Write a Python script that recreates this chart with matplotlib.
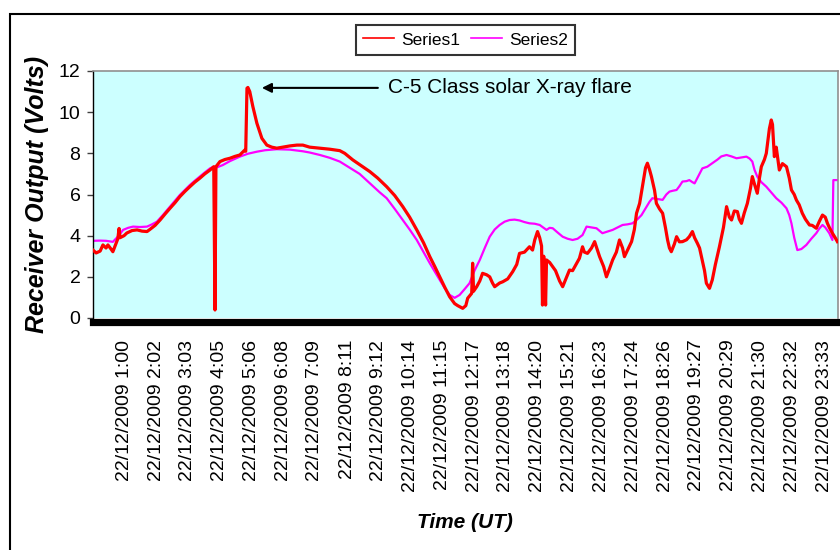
import matplotlib
matplotlib.use('Agg')
import matplotlib.pyplot as plt
from matplotlib.patches import Rectangle

plt.rcParams['font.family'] = ['Liberation Sans', 'DejaVu Sans']

# Series1 - receiver output (hours UT, volts)
s1_time = [0.00, 0.10, 0.23, 0.32, 0.42, 0.48, 0.58, 0.64, 0.71, 0.77, 0.80, 0.84, 0.87, 1.00, 1.09,
           1.26, 1.42, 1.58, 1.74, 1.83, 2.00, 2.16, 2.32, 2.48, 2.64, 2.80, 2.96, 3.12, 3.28, 3.44,
           3.60, 3.77, 3.89, 3.93, 3.96, 4.09, 4.25, 4.41, 4.57, 4.73, 4.89, 4.92, 4.96, 4.99, 5.05,
           5.15, 5.28, 5.44, 5.60, 5.76, 5.92, 6.12, 6.34, 6.57, 6.76, 6.98, 7.31, 7.63, 7.95, 8.11,
           8.37, 8.59, 8.92, 9.17, 9.46, 9.72, 9.98, 10.20, 10.43, 10.65, 10.85, 11.01, 11.17, 11.33,
           11.49, 11.65, 11.75, 11.91, 12.01, 12.07, 12.20, 12.23, 12.26, 12.36, 12.46, 12.55, 12.68,
           12.78, 12.87, 12.94, 13.10, 13.20, 13.36, 13.52, 13.65, 13.74, 13.90, 14.06, 14.16, 14.23,
           14.32, 14.39, 14.45, 14.48, 14.52, 14.58, 14.61, 14.71, 14.81, 14.90, 15.03, 15.13, 15.26,
           15.35, 15.45, 15.58, 15.67, 15.77, 15.83, 15.93, 16.06, 16.16, 16.25, 16.32, 16.45, 16.54,
           16.64, 16.74, 16.86, 16.96, 17.06, 17.12, 17.22, 17.35, 17.44, 17.51, 17.61, 17.70, 17.80,
           17.86, 17.93, 17.99, 18.09, 18.15, 18.25, 18.35, 18.44, 18.51, 18.57, 18.63, 18.73, 18.80,
           18.89, 18.99, 19.12, 19.21, 19.31, 19.38, 19.47, 19.54, 19.60, 19.70, 19.76, 19.86, 19.95,
           20.05, 20.18, 20.31, 20.41, 20.50, 20.57, 20.66, 20.76, 20.82, 20.89, 20.98, 21.08, 21.18,
           21.24, 21.31, 21.40, 21.47, 21.53, 21.63, 21.69, 21.79, 21.85, 21.89, 21.95, 22.01, 22.11,
           22.21, 22.34, 22.43, 22.50, 22.59, 22.66, 22.75, 22.85, 22.95, 23.08, 23.17, 23.30, 23.40,
           23.50, 23.59, 23.66, 23.72, 23.82, 23.91, 23.98]
s1_volts = [3.30, 3.16, 3.25, 3.55, 3.40, 3.55, 3.35, 3.22, 3.50, 3.75, 3.85, 4.35, 3.90, 4.00, 4.13,
            4.25, 4.28, 4.22, 4.20, 4.30, 4.50, 4.76, 5.05, 5.33, 5.60, 5.90, 6.15, 6.38, 6.60, 6.79,
            7.00, 7.19, 7.35, 0.39, 7.35, 7.60, 7.70, 7.76, 7.85, 7.92, 8.16, 8.10, 11.16, 11.20, 11.00,
            10.27, 9.46, 8.73, 8.40, 8.30, 8.25, 8.30, 8.36, 8.40, 8.40, 8.30, 8.25, 8.20, 8.13, 8.00,
            7.68, 7.45, 7.11, 6.80, 6.38, 5.95, 5.41, 4.90, 4.28, 3.65, 2.98, 2.50, 2.00, 1.50,
            1.03, 0.70, 0.60, 0.47, 0.60, 0.96, 1.20, 2.66, 1.30, 1.52, 1.80, 2.17, 2.10,
            2.00, 1.70, 1.52, 1.70, 1.76, 1.90, 2.25, 2.60, 3.14, 3.20, 3.46, 3.30, 3.79,
            4.20, 3.90, 3.50, 0.63, 3.00, 0.63, 2.82, 2.70, 2.49, 2.30, 1.80, 1.52, 2.00,
            2.33, 2.30, 2.66, 2.90, 3.46, 3.20, 3.14, 3.40, 3.71, 3.30, 2.98, 2.50, 2.00,
            2.40, 2.82, 3.20, 3.79, 3.40, 2.98, 3.30, 3.71, 4.30, 5.09, 5.57, 6.38, 7.30,
            7.52, 7.20, 6.87, 6.20, 5.57, 5.30, 5.09, 4.40, 3.79, 3.40, 3.22, 3.60, 3.95,
            3.70, 3.71, 3.80, 3.95, 4.20, 3.90, 3.63, 3.40, 2.98, 2.30, 1.69, 1.44, 1.85,
            2.60, 3.46, 4.40, 5.41, 4.90, 4.76, 5.20, 5.17, 4.80, 4.60, 5.10, 5.57, 6.30,
            6.87, 6.50, 6.06, 6.80, 7.35, 7.70, 8.00, 9.20, 9.62, 9.40, 7.84, 8.30, 7.19,
            7.50, 7.35, 6.80, 6.22, 6.00, 5.73, 5.50, 5.09, 4.80, 4.52, 4.50, 4.36, 4.70,
            5.00, 4.90, 4.60, 4.40, 4.12, 3.90, 3.71]

# Series2
s2_time = [0.00, 0.23, 0.42, 0.64, 0.80, 0.97, 1.13, 1.29, 1.51, 1.74, 1.90, 2.06, 2.25, 2.48, 2.64,
           2.80, 2.96, 3.12, 3.28, 3.44, 3.60, 3.77, 3.89, 3.93, 3.96, 4.18, 4.41, 4.73, 4.99, 5.28,
           5.54, 5.92, 6.34, 6.76, 6.98, 7.31, 7.63, 7.95, 8.27, 8.59, 8.92, 9.24, 9.46, 9.72, 9.98,
           10.20, 10.43, 10.65, 10.85, 11.01, 11.17, 11.33, 11.49, 11.65, 11.81, 11.97, 12.13, 12.29,
           12.46, 12.62, 12.78, 12.94, 13.10, 13.26, 13.42, 13.58, 13.74, 13.90, 14.06, 14.23, 14.39,
           14.55, 14.61, 14.71, 14.81, 14.97, 15.13, 15.29, 15.45, 15.61, 15.77, 15.90, 16.06, 16.22,
           16.41, 16.58, 16.74, 16.90, 17.06, 17.22, 17.38, 17.54, 17.67, 17.77, 17.83, 17.93, 18.02,
           18.18, 18.35, 18.47, 18.57, 18.67, 18.80, 18.89, 18.99, 19.12, 19.21, 19.31, 19.38, 19.47,
           19.63, 19.79, 19.95, 20.12, 20.24, 20.41, 20.57, 20.73, 20.89, 21.05, 21.15, 21.24, 21.31,
           21.40, 21.53, 21.69, 21.85, 22.01, 22.18, 22.34, 22.43, 22.50, 22.59, 22.69, 22.82, 22.98,
           23.14, 23.30, 23.40, 23.50, 23.59, 23.72, 23.82, 23.85, 23.98]
s2_volts = [3.75, 3.76, 3.75, 3.70, 3.95, 4.28, 4.38, 4.44, 4.42, 4.44, 4.55, 4.68, 5.00, 5.41, 5.70,
            5.98, 6.22, 6.46, 6.67, 6.87, 7.07, 7.27, 7.35, 6.55, 7.30, 7.43, 7.62, 7.84, 7.98, 8.08,
            8.15, 8.20, 8.18, 8.10, 8.04, 7.92, 7.78, 7.60, 7.30, 7.00, 6.54, 6.10, 5.82, 5.30, 4.76,
            4.30, 3.79, 3.20, 2.66, 2.25, 1.85, 1.45, 1.12, 0.98, 1.12, 1.40, 1.69, 2.30,
            2.82, 3.40, 3.95, 4.30, 4.52, 4.68, 4.76, 4.78, 4.74, 4.66, 4.60, 4.58, 4.52,
            4.35, 4.28, 4.38, 4.36, 4.15, 3.95, 3.85, 3.79, 3.85, 4.03, 4.44, 4.40, 4.36,
            4.12, 4.20, 4.28, 4.40, 4.52, 4.55, 4.60, 4.80, 5.00, 5.25, 5.41, 5.65, 5.82,
            5.78, 5.74, 6.00, 6.14, 6.18, 6.22, 6.40, 6.63, 6.65, 6.70, 6.60, 6.54, 6.80,
            7.27, 7.35, 7.52, 7.70, 7.85, 7.92, 7.85, 7.76, 7.80, 7.84, 7.75, 7.60, 7.20,
            6.87, 6.60, 6.38, 6.10, 5.82, 5.60, 5.33, 5.00, 4.60, 3.90, 3.30, 3.35, 3.55,
            3.85, 4.12, 4.35, 4.52, 4.40, 4.12, 3.79, 6.70, 6.70]

tick_labels = ['1:00', '2:02', '3:03', '4:05', '5:06', '6:08', '7:09', '8:11', '9:12', '10:14',
               '11:15', '12:17', '13:18', '14:20', '15:21', '16:23', '17:24', '18:26', '19:27',
               '20:29', '21:30', '22:32', '23:33']
date_str = '22/12/2009'

flare_time = 5.44
flare_label_time = 9.49
flare_level = 11.18

fig = plt.figure(figsize=(8.4, 5.5), dpi=100)
ax = fig.add_axes([93 / 840, 1 - 318 / 550, 745 / 840, 247 / 550])
ax.set_facecolor('#CCFFFF')

ax.plot(s1_time, s1_volts, color='#FF0000', lw=2.3, label='Series1', zorder=3)
ax.plot(s2_time, s2_volts, color='#FF00FF', lw=1.6, label='Series2', zorder=2)

ax.set_xlim(0, 24)
ax.set_ylim(0, 12)
ax.set_yticks(range(0, 13, 2))

tick_pos = [int(t.split(':')[0]) + int(t.split(':')[1]) / 60 for t in tick_labels]
ax.set_xticks(tick_pos)
ax.set_xticklabels([f'{date_str} {t}' for t in tick_labels])
ax.tick_params(axis='x', length=0, pad=13, labelsize=14, labelrotation=90)
ax.tick_params(axis='y', direction='out', length=4, width=1, color='#404040', labelsize=14, pad=5)
for lbl in ax.get_xticklabels():
    lbl.set_va('top')
    lbl.set_ha('center')

for side in ['top', 'right']:
    ax.spines[side].set_color('#909090')
    ax.spines[side].set_linewidth(1.2)
ax.spines['left'].set_color('black')
ax.spines['left'].set_linewidth(1.0)
ax.spines['bottom'].set_color('black')
ax.spines['bottom'].set_linewidth(5.2)
ax.spines['bottom'].set_position(('outward', 2.6))

ax.annotate('C-5 Class solar X-ray flare', xy=(flare_time, flare_level),
            xytext=(flare_label_time, flare_level), fontsize=15, ha='left', va='center',
            arrowprops=dict(arrowstyle='-|>', color='black', lw=1.5, mutation_scale=14,
                            shrinkA=5, shrinkB=0))

fig.text(37 / 840, 1 - 194 / 550, 'Receiver Output (Volts)', rotation=90, ha='center',
         va='center', fontsize=18, fontweight='bold', fontstyle='italic')
fig.text(465 / 840, 1 - 523 / 550, 'Time (UT)', ha='center', va='center', fontsize=15,
         fontweight='bold', fontstyle='italic')

leg = fig.legend(loc='center', bbox_to_anchor=(465.5 / 840, 1 - 40 / 550), ncol=2,
                 fontsize=12.5, frameon=True, fancybox=False, handlelength=1.8,
                 handletextpad=0.4, columnspacing=0.6, borderpad=0.4)
leg.get_frame().set_edgecolor('black')
leg.get_frame().set_linewidth(1.5)
for line in leg.get_lines():
    line.set_linewidth(1.2)

fig.patches.append(Rectangle((10 / 840, -0.1), 1.2, 1 - 14 / 550 + 0.1, transform=fig.transFigure,
                             fill=False, ec='black', lw=1.5))

fig.savefig('out.png', dpi=100)
